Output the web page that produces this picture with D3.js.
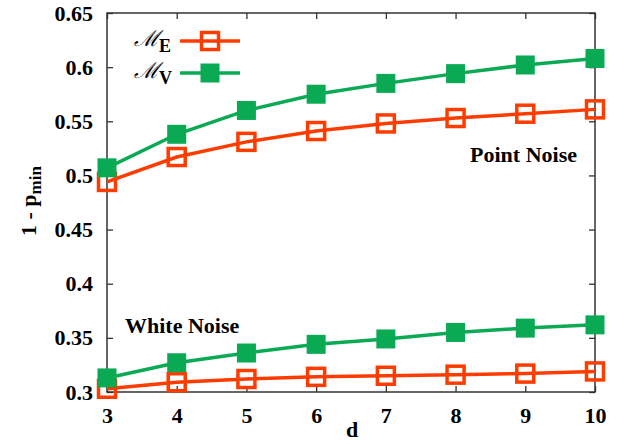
<!DOCTYPE html>
<html>
<head>
<meta charset="utf-8">
<script src="https://cdn.jsdelivr.net/npm/d3@7"></script>
<style>
  body { margin: 0; background: #fff; }
</style>
</head>
<body>
<svg id="chart" width="642" height="444"></svg>
<script>
// dati
const dims = [3, 4, 5, 6, 7, 8, 9, 10];
const pointME = [0.494, 0.517, 0.531, 0.541, 0.548, 0.553, 0.557, 0.561];
const pointMV = [0.507, 0.538, 0.560, 0.575, 0.585, 0.594, 0.602, 0.608];
const whiteME = [0.303, 0.309, 0.312, 0.314, 0.315, 0.316, 0.317, 0.319];
const whiteMV = [0.313, 0.327, 0.336, 0.344, 0.349, 0.355, 0.359, 0.362];
const yTicks = [0.3, 0.35, 0.4, 0.45, 0.5, 0.55, 0.6, 0.65];

const orange = "#ff3c00";
const green = "#0aaa55";
const axisColor = "#333";
const serif = "Liberation Serif";

// area del grafico
const margin = { top: 13, right: 47, bottom: 52, left: 107 };
const width = 642 - margin.left - margin.right;
const height = 444 - margin.top - margin.bottom;

const svg = d3.select("#chart");
const g = svg.append("g").attr("transform", `translate(${margin.left},${margin.top})`);

const x = d3.scaleLinear().domain([3, 10]).range([0, width]);
const y = d3.scaleLinear().domain([0.3, 0.65]).range([height, 0]);

// testo in grassetto serif, impostato inline
function txt(sel, size) {
  return sel.style("font-family", serif).style("font-weight", "bold").style("font-size", size + "px");
}

// assi con tick interni (anche sopra e a destra)
const tickLen = 6;
g.append("g").attr("transform", `translate(0,${height})`)
  .call(d3.axisBottom(x).tickValues(dims).tickSize(-tickLen).tickPadding(15).tickFormat(d3.format("d")));
g.append("g").call(d3.axisTop(x).tickValues(dims).tickSize(-tickLen).tickFormat(""));
g.append("g").call(d3.axisLeft(y).tickValues(yTicks).tickSize(-tickLen).tickPadding(14).tickFormat(d => String(+d.toFixed(2))));
g.append("g").attr("transform", `translate(${width},0)`)
  .call(d3.axisRight(y).tickValues(yTicks).tickSize(-tickLen).tickFormat(""));

g.selectAll(".domain").remove();
g.selectAll(".tick line").attr("stroke", axisColor).attr("stroke-width", 1.3);
txt(g.selectAll(".tick text").attr("fill", "#000"), 22);

g.append("rect")
  .attr("width", width).attr("height", height)
  .attr("fill", "none").attr("stroke", axisColor).attr("stroke-width", 1.5);

// serie
const series = [
  { vals: pointME, color: orange, open: true },
  { vals: pointMV, color: green, open: false },
  { vals: whiteME, color: orange, open: true },
  { vals: whiteMV, color: green, open: false }
];

const line = d3.line().x((d, i) => x(dims[i])).y(d => y(d));

series.forEach(s => {
  g.append("path").datum(s.vals)
    .attr("d", line)
    .attr("fill", "none")
    .attr("stroke", s.color)
    .attr("stroke-width", 3.5);
});

function drawMarker(sel, cx, cy, s) {
  if (s.open) {
    sel.append("rect")
      .attr("x", cx - 8.5).attr("y", cy - 8.5)
      .attr("width", 17).attr("height", 17)
      .attr("fill", "none").attr("stroke", s.color).attr("stroke-width", 3.5);
  } else {
    sel.append("rect")
      .attr("x", cx - 9.5).attr("y", cy - 9.5)
      .attr("width", 19).attr("height", 19)
      .attr("fill", s.color);
  }
}

series.forEach(s => {
  s.vals.forEach((v, i) => drawMarker(g, x(dims[i]), y(v), s));
});

// legenda
const legend = [
  { label: "E", s: series[0], yy: 41 },
  { label: "V", s: series[1], yy: 73 }
];
legend.forEach(l => {
  svg.append("line")
    .attr("x1", 180).attr("x2", 240).attr("y1", l.yy).attr("y2", l.yy)
    .attr("stroke", l.s.color).attr("stroke-width", 3.5);
  drawMarker(svg, 210, l.yy, l.s);
  const t = txt(svg.append("text").attr("x", 134).attr("y", l.yy + 5), 22);
  t.append("tspan").text("ℳ").style("font-family", "DejaVu Serif").style("font-weight", "normal").style("font-style", "italic");
  t.append("tspan").attr("dy", 6).style("font-size", "18px").text(l.label);
});

// annotazioni
txt(svg.append("text").attr("x", 577).attr("y", 162).attr("text-anchor", "end"), 22).text("Point Noise");
txt(svg.append("text").attr("x", 125).attr("y", 333), 22).text("White Noise");

// etichette degli assi
txt(svg.append("text").attr("x", 352).attr("y", 437).attr("text-anchor", "middle"), 22).text("d");

const yl = txt(svg.append("text")
  .attr("transform", "translate(36,201) rotate(-90)")
  .attr("text-anchor", "middle"), 22);
yl.append("tspan").text("1 - p");
yl.append("tspan").attr("dy", 5).style("font-size", "17px").text("min");
</script>
</body>
</html>
